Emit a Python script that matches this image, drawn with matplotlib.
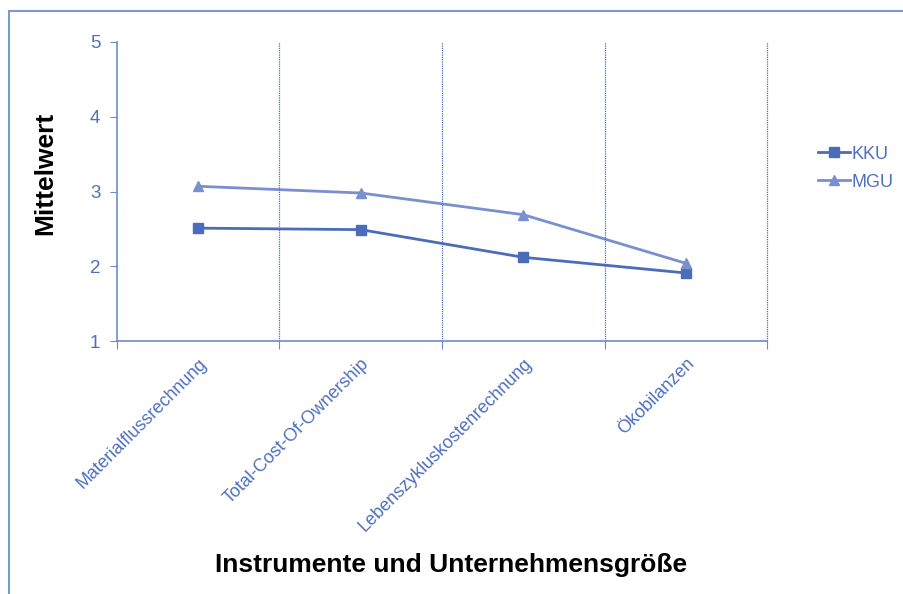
import matplotlib
matplotlib.use('Agg')
import matplotlib.pyplot as plt
from matplotlib.patches import Rectangle
from matplotlib.transforms import ScaledTranslation

plt.rcParams['font.family'] = ['Liberation Sans', 'DejaVu Sans']

# data
categories = ['Materialflussrechnung', 'Total-Cost-Of-Ownership',
              'Lebenszykluskostenrechnung', 'Ökobilanzen']
kku = [2.51, 2.49, 2.12, 1.91]
mgu = [3.07, 2.98, 2.69, 2.04]
y_ticks = [1, 2, 3, 4, 5]

axis_col = '#6f8bcb'
text_col = '#4f70bd'
kku_col = '#4a6cb9'
mgu_col = '#7a8fcf'

fig = plt.figure(figsize=(9.04, 5.94), dpi=100)
ax = fig.add_axes([0.1294, 0.4259, 0.7191, 0.5034])

# outer chart frame (only top and left edges visible)
fig.patches.append(Rectangle((9 / 904, -0.1), 1.2, 1.1 - 11 / 594,
                             transform=fig.transFigure, fill=False,
                             edgecolor='#7d97d0', linewidth=1.5))

x = list(range(len(categories)))
ax.plot(x, kku, color=kku_col, marker='s', markersize=6.5, linewidth=2, label='KKU')
ax.plot(x, mgu, color=mgu_col, marker='^', markersize=7.5, linewidth=2, label='MGU')

ax.set_xlim(-0.5, len(categories) - 0.5)
ax.set_ylim(1, 5)
ax.set_yticks(y_ticks)

# category boundaries as ticks and dotted gridlines
bounds = [i - 0.5 for i in range(len(categories) + 1)]
ax.set_xticks(bounds)
ax.set_xticklabels([])
ax.set_xticks(x, minor=True)
ax.set_xticklabels(categories, minor=True, rotation=45, ha='right',
                   rotation_mode='anchor', fontsize=13, color=text_col)
shift = ScaledTranslation(-4 / 100, 0, fig.dpi_scale_trans)
for lbl in ax.get_xticklabels(minor=True):
    lbl.set_transform(lbl.get_transform() + shift)
ax.tick_params(axis='x', which='minor', length=0, pad=10)
ax.tick_params(axis='x', which='major', length=6, color=axis_col, direction='out')
ax.tick_params(axis='y', length=5, color=axis_col, labelcolor=text_col,
               labelsize=13.5, pad=7)
for b in bounds[1:]:
    ax.axvline(b, color='#4f6fbd', linestyle=(0, (1, 0.8)), linewidth=0.9,
               clip_on=False)

for side in ['top', 'right']:
    ax.spines[side].set_visible(False)
for side in ['left', 'bottom']:
    ax.spines[side].set_color(axis_col)
    ax.spines[side].set_linewidth(1.2)

fig.text(45 / 904, 1 - 173 / 594, 'Mittelwert', fontsize=19, fontweight='bold',
         rotation=90, ha='center', va='center')
fig.text(451 / 904, 1 - 565 / 594, 'Instrumente und Unternehmensgröße', fontsize=19,
         fontweight='bold', ha='center', va='center')

leg = fig.legend(loc='center left', bbox_to_anchor=(0.9045, 0.717), frameon=False,
                 fontsize=13, handlelength=1.8, handletextpad=0.1,
                 labelspacing=0.62, borderpad=0, borderaxespad=0)
for t in leg.get_texts():
    t.set_color(text_col)

fig.savefig('out.png', dpi=100)
